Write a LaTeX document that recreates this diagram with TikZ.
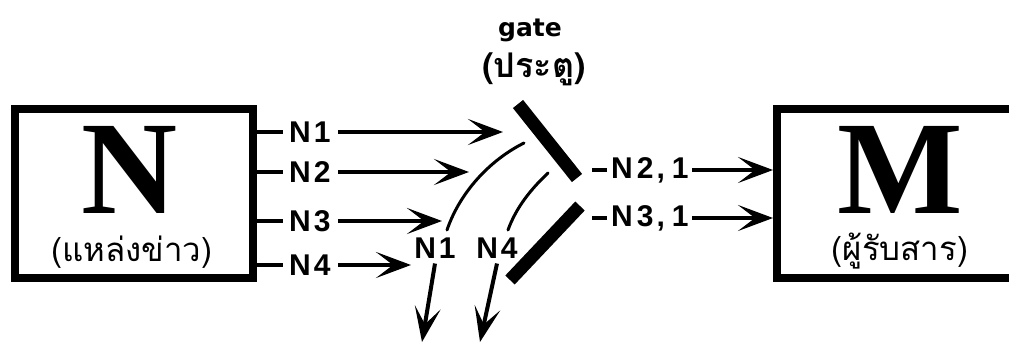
\documentclass[tikz,border=0pt]{standalone}
\usepackage{fontspec}
\setmainfont{Liberation Sans}
\newfontfamily\thaifont[Script=Thai]{Loma}
\newfontfamily\bigserif{Liberation Serif}
\newfontfamily\widesans{DejaVu Sans}
\usetikzlibrary{arrows.meta}

\tikzset{
  x=1pt, y=-1pt,
  frame/.style={draw, line width=8pt, minimum height=169pt, inner sep=0pt},
  letter/.style={font=\bigserif\bfseries\fontsize{133}{133}\selectfont, inner sep=0pt, anchor=base},
  thai/.style={font=\thaifont\fontsize{33}{33}\selectfont, inner sep=0pt},
  lbl/.style={font=\bfseries\fontsize{30}{30}\selectfont, inner sep=0pt},
  flow/.style={line width=4pt, -{Stealth[length=35pt,width=26pt,inset=17pt]}},
  stub/.style={line width=4pt},
  bar/.style={line width=13pt},
  reject/.style={line width=3pt, line cap=round},
}

\begin{document}
\begin{tikzpicture}
\useasboundingbox (0,0) rectangle (1009,343);
\clip (0,0) rectangle (1009,343);

% source and receiver boxes
\node[frame, minimum width=238pt] (src) at (134,193.5) {};
\node[letter] (srcN) at (130,213) {N};
\node[thai] (srcT) at (132,252) {(แหล่งข่าว)};

\node[frame, minimum width=280pt] (dst) at (917,193.5) {};
\node[letter] (dstM) at (900,213) {M};
\node[thai] (dstT) at (900,251) {(ผู้รับสาร)};

% gate label
\node[font=\widesans\bfseries\fontsize{25}{25}\selectfont, inner sep=0pt, anchor=base] (gate) at (530,36) {gate};
\node[thai, font=\thaifont\bfseries\fontsize{34}{34}\selectfont] (gateT) at (534,69) {(ประตู)};

% the two gate bars
\coordinate (ga) at (518,104);
\coordinate (gb) at (577,178);
\coordinate (gc) at (580,206);
\coordinate (gd) at (510,280);
\draw[bar] (ga) -- (gb);
\draw[bar] (gc) -- (gd);

% incoming messages
\node[lbl, anchor=west] (n1) at (289,132) {N\kern3pt1};
\node[lbl, anchor=west] (n2) at (289,172) {N\kern3pt2};
\node[lbl, anchor=west] (n3) at (289,221) {N\kern3pt3};
\node[lbl, anchor=west] (n4) at (289,265) {N\kern3pt4};

\coordinate (t1) at (503,132);
\coordinate (t2) at (469,172);
\coordinate (t3) at (442,221);
\coordinate (t4) at (411,265);

\foreach \i in {1,2,3,4}{
  \draw[stub] (src.east |- n\i.west) -- ([xshift=-6pt]n\i.west);
  \draw[flow] ([xshift=7pt]n\i.east) -- (t\i);
}

% rejected messages bending away from the gate
\coordinate (c1a) at (524,143);
\coordinate (c1b) at (447,230);
\coordinate (c2a) at (548,173);
\coordinate (c2b) at (508,230);
\draw[reject] (c1a) .. controls (490,160) and (460,192) .. (c1b);
\draw[reject] (c2a) .. controls (530,190) and (516,208) .. (c2b);

\node[lbl] (m1) at (435,248) {N\kern3pt1};
\node[lbl] (m4) at (497,248) {N\kern3pt4};
\coordinate (d1) at (422,342);
\coordinate (d4) at (480,342);
\draw[flow] ([yshift=-5pt]m1.south) -- (d1);
\draw[flow] ([yshift=-5pt]m4.south) -- (d4);

% messages passed through the gate
\coordinate (out) at (592,0);
\node[lbl, anchor=west] (p2) at (611,170) {N\kern4pt2\kern3pt,\kern7pt1};
\node[lbl, anchor=west] (p3) at (611,218) {N\kern4pt3\kern3pt,\kern7pt1};
\foreach \i in {2,3}{
  \draw[stub] (out |- p\i.west) -- ([xshift=-4pt]p\i.west);
  \draw[flow] ([xshift=3pt]p\i.east) -- (dst.west |- p\i.east);
}
\end{tikzpicture}
\end{document}
